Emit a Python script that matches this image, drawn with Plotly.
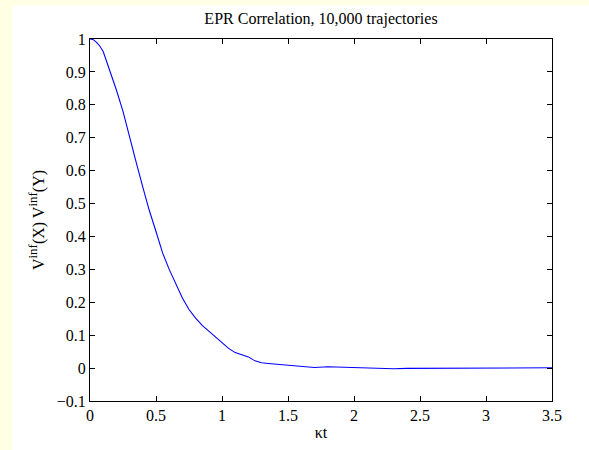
import plotly.graph_objs as go

# Data
kt = [0, 0.025, 0.05, 0.075, 0.1, 0.15, 0.2, 0.25, 0.3, 0.35, 0.4, 0.45, 0.5, 0.55,
      0.6, 0.65, 0.7, 0.75, 0.8, 0.85, 0.9, 0.95, 1.0, 1.05, 1.1, 1.15, 1.2, 1.25,
      1.3, 1.35, 1.4, 1.5, 1.6, 1.7, 1.8, 1.9, 2.0, 2.1, 2.2, 2.3, 2.4, 2.5, 2.6,
      2.7, 2.8, 2.9, 3.0, 3.1, 3.2, 3.3, 3.4, 3.5]
corr = [1.0, 0.998, 0.99, 0.978, 0.962, 0.905, 0.845, 0.78, 0.70, 0.625, 0.55,
        0.478, 0.415, 0.35, 0.30, 0.255, 0.213, 0.178, 0.152, 0.13, 0.113, 0.096,
        0.077, 0.06, 0.047, 0.04, 0.034, 0.022, 0.016, 0.014, 0.012, 0.009, 0.006,
        0.002, 0.004, 0.003, 0.002, 0.001, -0.002, -0.002, -0.001, -0.001, 0.0,
        -0.001, 0.0, 0.001, 0.0, 0.0, 0.001, 0.0, 0.0, 0.001]

x_ticks = [0, 0.5, 1, 1.5, 2, 2.5, 3, 3.5]
x_ticklabels = ['0', '0.5', '1', '1.5', '2', '2.5', '3', '3.5']
y_ticks = [-0.1, 0, 0.1, 0.2, 0.3, 0.4, 0.5, 0.6, 0.7, 0.8, 0.9, 1]
y_ticklabels = ['\u22120.1', '0', '0.1', '0.2', '0.3', '0.4', '0.5', '0.6', '0.7', '0.8', '0.9', '1']

serif = 'Liberation Serif'
font = dict(family=serif, size=16, color='black')
sup = '<sup><span style="font-size:13px">inf</span></sup>'

trace = go.Scatter(x=kt, y=corr, mode='lines', line=dict(color='#0000ff', width=1.1),
                   hoverinfo='x+y')

axis_style = dict(showline=True, linecolor='black', linewidth=1, mirror='ticks',
                  ticks='inside', ticklen=5, tickcolor='black', showgrid=False,
                  zeroline=False, tickfont=font)

layout = go.Layout(
    width=589, height=450,
    margin=dict(l=90, r=37, t=39, b=46),
    paper_bgcolor='#ffffe4', plot_bgcolor='white',
    font=font, showlegend=False,
    title=dict(text='EPR Correlation, 10,000 trajectories', x=0.5, xref='paper',
               y=1 - 18 / 450, yanchor='middle', font=dict(family=serif, size=16)),
    xaxis=dict(range=[0, 3.5], tickvals=x_ticks, ticktext=x_ticklabels,
               title=dict(text='\u03bat', standoff=3, font=dict(family=serif, size=16)),
               **axis_style),
    yaxis=dict(range=[-0.1, 1], tickvals=y_ticks, ticktext=y_ticklabels,
               title=dict(text='V' + sup + '(X) V' + sup + '(Y)', standoff=8,
                          font=dict(family=serif, size=16)),
               **axis_style),
    # white page area, leaving the pale yellow strip at the left and top
    shapes=[dict(type='rect', xref='paper', yref='paper', x0=(12 - 90) / 462, x1=1.2,
                 y0=-0.3, y1=(404 - 5) / 365, fillcolor='white', line=dict(width=0),
                 layer='below')],
)

fig = go.Figure(data=[trace], layout=layout)
fig.write_html("out.html", config={'displayModeBar': False},
               post_script="document.body.style.margin='0';document.body.style.background='#ffffe4';")
